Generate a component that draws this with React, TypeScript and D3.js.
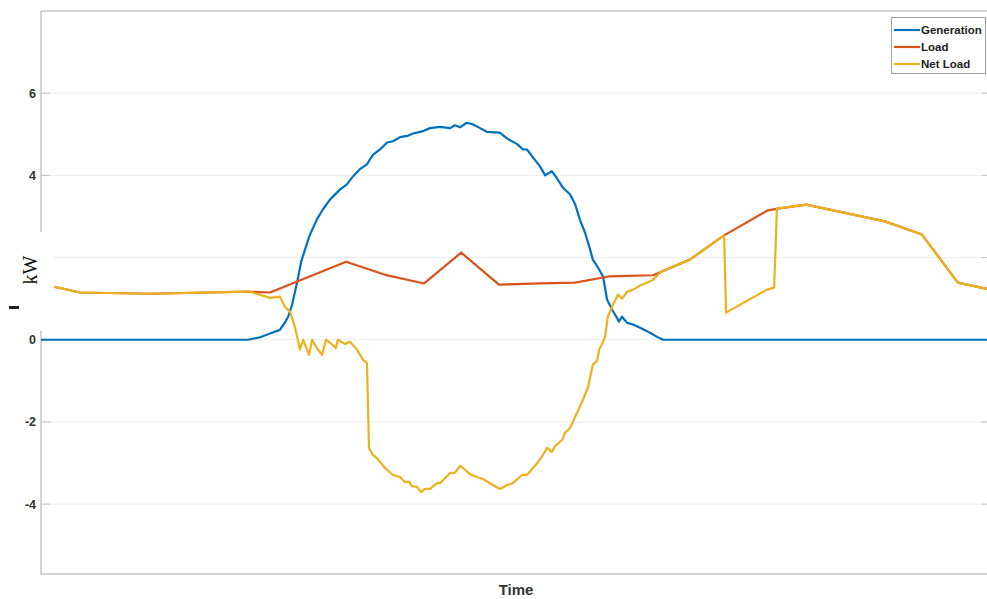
import React from "react";
import * as d3 from "d3";

// Hours of the day and kW values
const genHours = [0, 5.25, 5.56, 5.81, 6.06, 6.19, 6.27, 6.37, 6.44, 6.52, 6.6, 6.7, 6.82, 7.0, 7.15, 7.33, 7.59, 7.76, 7.92, 8.09, 8.27, 8.42, 8.6, 8.78, 8.93, 9.11, 9.29, 9.44, 9.67, 9.87, 10.12, 10.38, 10.5, 10.63, 10.8, 10.96, 11.14, 11.31, 11.64, 11.82, 12.08, 12.23, 12.33, 12.48, 12.66, 12.79, 12.96, 13.09, 13.24, 13.42, 13.55, 13.67, 13.8, 13.93, 14.0, 14.13, 14.26, 14.36, 14.49, 14.61, 14.66, 14.74, 14.87, 15.02, 15.2, 15.45, 15.63, 15.78, 24];
const genKW = [0, 0, 0.06, 0.15, 0.24, 0.42, 0.56, 0.85, 1.15, 1.5, 1.9, 2.2, 2.55, 2.93, 3.17, 3.41, 3.66, 3.78, 3.98, 4.15, 4.27, 4.5, 4.63, 4.8, 4.83, 4.93, 4.96, 5.02, 5.07, 5.15, 5.18, 5.15, 5.22, 5.17, 5.28, 5.24, 5.15, 5.06, 5.04, 4.9, 4.76, 4.63, 4.63, 4.44, 4.22, 4.0, 4.1, 3.93, 3.7, 3.54, 3.3, 2.93, 2.61, 2.2, 1.95, 1.76, 1.54, 0.98, 0.73, 0.54, 0.44, 0.56, 0.41, 0.37, 0.29, 0.17, 0.07, 0, 0];

const loadHours = [0, 0.99, 2.77, 5.25, 5.81, 7.74, 8.73, 9.72, 10.66, 11.62, 12.66, 13.55, 14.4, 15.53, 16.46, 17.33, 18.44, 18.7, 19.41, 21.41, 22.35, 23.26, 24];
const loadKW = [1.36, 1.15, 1.12, 1.17, 1.15, 1.9, 1.58, 1.37, 2.12, 1.34, 1.37, 1.39, 1.54, 1.57, 1.95, 2.54, 3.15, 3.19, 3.29, 2.88, 2.56, 1.39, 1.24];

const netHours = [0, 0.99, 2.77, 5.25, 5.3, 5.81, 6.06, 6.19, 6.32, 6.44, 6.57, 6.65, 6.8, 6.88, 7.0, 7.13, 7.23, 7.33, 7.48, 7.53, 7.71, 7.84, 8.02, 8.17, 8.27, 8.32, 8.42, 8.52, 8.73, 8.93, 9.11, 9.23, 9.34, 9.41, 9.54, 9.64, 9.74, 9.87, 10.05, 10.12, 10.38, 10.5, 10.63, 10.71, 10.88, 11.06, 11.21, 11.39, 11.64, 11.82, 11.97, 12.2, 12.33, 12.48, 12.61, 12.74, 12.84, 12.96, 13.04, 13.22, 13.29, 13.42, 13.55, 13.75, 13.88, 14.0, 14.11, 14.16, 14.26, 14.31, 14.38, 14.51, 14.64, 14.74, 14.87, 15.02, 15.2, 15.37, 15.53, 15.66, 15.78, 16.46, 17.33, 17.38, 18.42, 18.6, 18.67, 19.41, 21.41, 22.35, 23.26, 24];
const netKW = [1.36, 1.15, 1.12, 1.17, 1.17, 1.02, 1.05, 0.8, 0.68, 0.32, -0.24, 0, -0.37, 0, -0.2, -0.37, 0, -0.07, -0.2, 0, -0.1, -0.05, -0.24, -0.49, -0.56, -2.63, -2.8, -2.88, -3.12, -3.29, -3.34, -3.46, -3.46, -3.56, -3.58, -3.71, -3.63, -3.63, -3.49, -3.49, -3.24, -3.24, -3.07, -3.12, -3.27, -3.34, -3.39, -3.49, -3.63, -3.54, -3.49, -3.29, -3.29, -3.12, -2.98, -2.8, -2.63, -2.73, -2.59, -2.44, -2.27, -2.15, -1.88, -1.46, -1.15, -0.61, -0.51, -0.24, -0.05, 0.07, 0.56, 0.85, 1.1, 1.0, 1.17, 1.22, 1.32, 1.39, 1.46, 1.59, 1.68, 1.95, 2.54, 0.66, 1.22, 1.27, 3.19, 3.29, 2.88, 2.56, 1.39, 1.24];

const seriesNames = ["Generation", "Load", "Net Load"];
const seriesColors = ["#0072BD", "#D95319", "#EDB120"];
const yTicks = [-4, -2, 0, 2, 4, 6];

const W = 987;
const H = 599;
const left = 41;
const right = 987;
const top = 11;
const bottom = 574;

export default function App() {
  const x = d3.scaleLinear().domain([0, 24]).range([left, right]);
  const y = d3.scaleLinear().domain([-5.7, 8]).range([bottom, top]);

  const line = d3
    .line<[number, number]>()
    .x((d) => x(d[0]))
    .y((d) => y(d[1]));

  const series = [
    d3.zip(genHours, genKW) as [number, number][],
    d3.zip(loadHours, loadKW) as [number, number][],
    d3.zip(netHours, netKW) as [number, number][],
  ];

  const font = "'Liberation Sans', Arial, Helvetica, sans-serif";
  const axisGray = "#a8a8a8";

  return (
    <svg
      width={W}
      height={H}
      style={{ position: "absolute", left: 0, top: 0, background: "#fff" }}
    >
      <defs>
        <clipPath id="plot">
          <rect x={left} y={top} width={right - left} height={bottom - top} />
        </clipPath>
      </defs>
      <rect x={0} y={0} width={W} height={H} fill="#fff" />

      {/* grid */}
      {yTicks.map((t) => (
        <line
          key={"g" + t}
          x1={left}
          x2={right}
          y1={y(t)}
          y2={y(t)}
          stroke="#ebebeb"
          strokeWidth={1}
        />
      ))}

      {/* axes frame */}
      <line x1={left} x2={right} y1={top} y2={top} stroke={axisGray} strokeWidth={1} />
      <line x1={left} x2={right} y1={bottom} y2={bottom} stroke={axisGray} strokeWidth={1} />
      <line x1={left} x2={left} y1={top} y2={bottom} stroke={axisGray} strokeWidth={1} />

      {/* y ticks */}
      {yTicks.map((t) => (
        <g key={"t" + t}>
          <line x1={left} x2={left + 9} y1={y(t)} y2={y(t)} stroke="#c4c4c4" strokeWidth={1} />
          <line x1={right - 5} x2={right} y1={y(t)} y2={y(t)} stroke="#c4c4c4" strokeWidth={1} />
          <text
            x={left - 5}
            y={y(t) + 4.5}
            textAnchor="end"
            fontFamily={font}
            fontWeight="bold"
            fontSize={12.5}
            fill="#333"
          >
            {t}
          </text>
        </g>
      ))}

      {/* data */}
      <g clipPath="url(#plot)">
        {series.map((s, i) => (
          <path
            key={seriesNames[i]}
            d={line(s) || ""}
            fill="none"
            stroke={seriesColors[i]}
            strokeWidth={2.2}
            strokeLinejoin="round"
          />
        ))}
      </g>

      {/* y label area */}
      <rect x={0} y={232} width={54} height={99} fill="#fff" />
      <text
        transform="translate(37,270) rotate(-90)"
        textAnchor="middle"
        fontFamily="'Liberation Serif', 'Times New Roman', serif"
        fontSize={20}
        fill="#111"
      >
        kW
      </text>
      <rect x={9} y={306} width={10} height={3} fill="#222" />

      {/* x label */}
      <text
        x={516}
        y={595}
        textAnchor="middle"
        fontFamily={font}
        fontWeight="bold"
        fontSize={15}
        fill="#333"
      >
        Time
      </text>

      {/* legend */}
      <rect x={891.5} y={17.5} width={94} height={56} fill="#fff" stroke="#a0a0a0" strokeWidth={1} />
      {seriesNames.map((n, i) => (
        <g key={"l" + n}>
          <line
            x1={894}
            x2={920}
            y1={30 + i * 17}
            y2={30 + i * 17}
            stroke={seriesColors[i]}
            strokeWidth={2.2}
          />
          <text
            x={921}
            y={34 + i * 17}
            fontFamily={font}
            fontWeight="bold"
            fontSize={11.5}
            fill="#222"
          >
            {n}
          </text>
        </g>
      ))}
    </svg>
  );
}
